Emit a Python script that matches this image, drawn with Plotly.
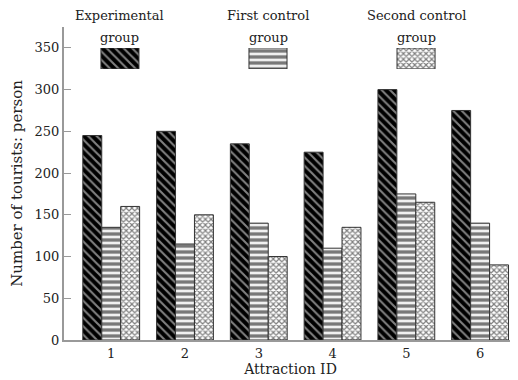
import plotly.graph_objects as go

attractions = ["1", "2", "3", "4", "5", "6"]
group_names = ["Experimental group", "First control group", "Second control group"]
legend_lines = [["Experimental", "group"], ["First control", "group"], ["Second control", "group"]]
experimental = [245, 250, 235, 225, 300, 275]
first_control = [135, 115, 140, 110, 175, 140]
second_control = [160, 150, 100, 135, 165, 90]
y_ticks = [0, 50, 100, 150, 200, 250, 300, 350]

FONT = "'DejaVu Serif', serif"
patterns = [
    dict(shape="\\", bgcolor="black", fgcolor="white", size=6, solidity=0.35),
    dict(shape="-", bgcolor="#f0f0f0", fgcolor="black", size=6, solidity=0.55),
    dict(shape="x", bgcolor="white", fgcolor="black", size=4, solidity=0.5),
]
series = [experimental, first_control, second_control]

fig = go.Figure()
for name, vals, pat in zip(group_names, series, patterns):
    fig.add_trace(go.Bar(
        x=[int(a) for a in attractions], y=vals, name=name,
        marker=dict(color="black", pattern=pat, line=dict(color="#333", width=1)),
        showlegend=False, xaxis="x", yaxis="y",
    ))

# legend swatches on their own small axis
for i, (name, pat) in enumerate(zip(group_names, patterns)):
    fig.add_trace(go.Bar(
        x=[i], y=[1], width=0.257, name=name,
        marker=dict(color="black", pattern=pat, line=dict(color="#333", width=1)),
        showlegend=False, xaxis="x2", yaxis="y2", hoverinfo="skip",
    ))

annotations = []
for i, lines in enumerate(legend_lines):
    annotations.append(dict(x=i, y=1.05, xref="x2", yref="y2 domain",
                            text=lines[1], showarrow=False, yanchor="bottom",
                            font=dict(family=FONT, size=13, color="#222")))
    annotations.append(dict(x=i, y=2.1, xref="x2", yref="y2 domain",
                            text=lines[0], showarrow=False, yanchor="bottom",
                            font=dict(family=FONT, size=13, color="#222")))

# page body has an 8px margin: figure is offset by (8, 8) in the window
fig.update_layout(
    width=510, height=372,
    margin=dict(l=56, r=1, t=19, b=40),
    paper_bgcolor="white", plot_bgcolor="rgba(0,0,0,0)",
    barmode="group", bargap=0.23, bargroupgap=0,
    font=dict(family=FONT, size=13, color="#222"),
    xaxis=dict(range=[0.36, 6.5], tickvals=[1, 2, 3, 4, 5, 6], ticktext=attractions,
               showgrid=False, zeroline=False, showline=True, linecolor="#999", linewidth=2,
               ticks="", tickfont=dict(size=13), automargin=False,
               title=dict(text="Attraction ID", standoff=0, font=dict(size=14))),
    yaxis=dict(range=[0, 375], tickvals=y_ticks, showgrid=False, zeroline=False,
               showline=True, linecolor="#999", linewidth=2, automargin=False,
               ticks="inside", ticklen=7, tickcolor="#999", tickfont=dict(size=13),
               title=dict(text="Number of tourists: person", standoff=9, font=dict(size=15))),
    xaxis2=dict(domain=[0, 1], anchor="y2", range=[-0.378, 2.682], visible=False, fixedrange=True),
    yaxis2=dict(domain=[0.866, 0.933], anchor="x2", range=[0, 1], visible=False, fixedrange=True),
    annotations=annotations,
)

fig.write_html("out.html")
